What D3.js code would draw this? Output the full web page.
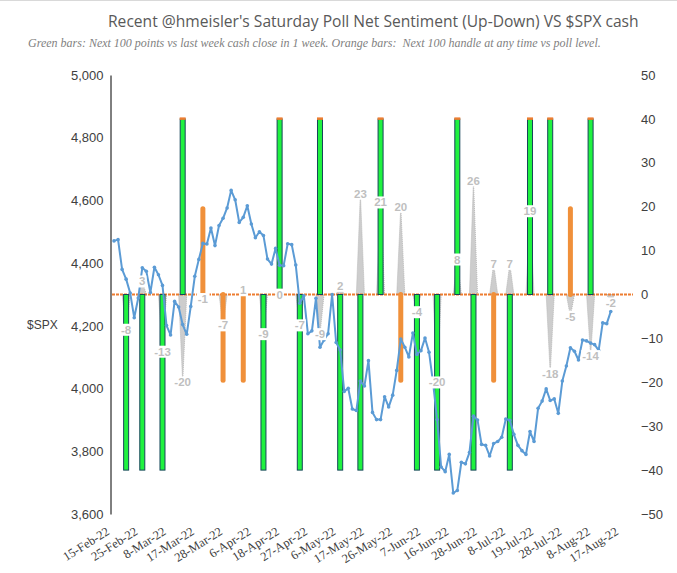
<!DOCTYPE html>
<html>
<head>
<meta charset="utf-8">
<script src="https://cdn.jsdelivr.net/npm/d3@7"></script>
<style>
  body { margin: 0; background: #fff; }
  svg { display: block; font-family: "Liberation Sans", Arial, sans-serif; }
</style>
</head>
<body>
<svg id="chart" width="677" height="573"></svg>
<script>
// trading days, Feb-Aug 2022
var monthDays = [
  ['Feb', [15,16,17,18,22,23,24,25,28]],
  ['Mar', [1,2,3,4,7,8,9,10,11,14,15,16,17,18,21,22,23,24,25,28,29,30,31]],
  ['Apr', [1,4,5,6,7,8,11,12,13,14,18,19,20,21,22,25,26,27,28,29]],
  ['May', [2,3,4,5,6,9,10,11,12,13,16,17,18,19,20,23,24,25,26,27,31]],
  ['Jun', [1,2,3,6,7,8,9,10,13,14,15,16,17,21,22,23,24,27,28,29,30]],
  ['Jul', [1,5,6,7,8,11,12,13,14,15,18,19,20,21,22,25,26,27,28,29]],
  ['Aug', [1,2,3,4,5,8,9,10,11,12,15,16,17,18,19]]
];

var tickLabels = ['15-Feb-22','25-Feb-22','8-Mar-22','17-Mar-22','28-Mar-22','6-Apr-22',
  '18-Apr-22','27-Apr-22','6-May-22','17-May-22','26-May-22','7-Jun-22','16-Jun-22',
  '28-Jun-22','8-Jul-22','19-Jul-22','28-Jul-22','8-Aug-22','17-Aug-22'];

// $SPX cash, from 15-Feb-22
var spxClose = [
  4471,4475,4380,4349,4305,4226,4289,4385,4374,
  4306,4387,4363,4329,4201,4171,4278,4260,4204,4173,4262,4358,4412,4463,4461,4512,4456,4520,4543,4576,4632,4602,4530,
  4546,4583,4525,4481,4500,4488,4413,4397,4447,4393,4392,4462,4459,4394,4272,4296,4175,4184,4288,4132,
  4155,4175,4300,4147,4123,3991,4001,3935,3930,4024,4008,4089,3924,3901,3901,3974,3941,3979,4058,4158,4132,
  4101,4177,4109,4121,4161,4116,4018,3901,3750,3735,3790,3667,3675,3765,3760,3796,3912,3900,3822,3819,3785,
  3825,3831,3845,3903,3899,3854,3819,3802,3790,3863,3831,3937,3960,3999,3962,3967,3921,4024,4072,4130,
  4119,4091,4155,4152,4145,4140,4122,4210,4207,4246
];

// Saturday polls, placed on the Friday close
var pollDates = ['18-Feb-22','25-Feb-22','4-Mar-22','11-Mar-22','18-Mar-22','25-Mar-22','1-Apr-22',
  '8-Apr-22','14-Apr-22','22-Apr-22','29-Apr-22','6-May-22','13-May-22','20-May-22','27-May-22',
  '3-Jun-22','10-Jun-22','17-Jun-22','24-Jun-22','1-Jul-22','8-Jul-22','15-Jul-22','22-Jul-22',
  '29-Jul-22','5-Aug-22','12-Aug-22'];
var pollNet    = [-8,3,-13,-20,-1,-7,1,-9,0,-7,-9,2,23,21,20,-4,-20,8,26,7,7,19,-18,-5,-14,-2];
var greenBars  = [-40,-40,-40,40,0,0,0,-40,40,-40,40,-40,-40,40,0,-40,-40,40,-40,0,-40,40,40,0,40,0];
var orangeBars = [0,0,0,0,20,-20,-20,0,0,0,0,0,0,0,-20,0,0,0,0,-20,0,0,0,20,0,0];

var days = [];
monthDays.forEach(function(m){
  m[1].forEach(function(d){ days.push(d + '-' + m[0] + '-22'); });
});

var svg = d3.select('#chart');

var x = d3.scaleBand().domain(days).range([112, 633]);
var xc = function(d){ return x(d) + x.bandwidth() / 2; };
var yL = d3.scaleLinear().domain([3600, 5000]).range([514, 75]);
var yR = d3.scaleLinear().domain([-50, 50]).range([514, 75]);

// top border
svg.append('line').attr('x1', 0).attr('x2', 677).attr('y1', 0.5).attr('y2', 0.5)
  .attr('stroke', '#d9d9d9');

// titles
svg.append('text')
  .attr('x', 108).attr('y', 27)
  .attr('font-family', '"Open Sans", "Noto Sans", sans-serif')
  .attr('font-size', 15.6).attr('fill', '#595959')
  .text("Recent @hmeisler's Saturday Poll Net Sentiment (Up-Down) VS $SPX cash");

svg.append('text')
  .attr('x', 28).attr('y', 47)
  .attr('font-family', '"Liberation Serif", "Times New Roman", serif')
  .attr('font-style', 'italic')
  .attr('font-size', 12).attr('fill', '#7f7f7f')
  .attr('xml:space', 'preserve')
  .text('Green bars: Next 100 points vs last week cash close in 1 week. Orange bars:  Next 100 handle at any time vs poll level.');

svg.append('text')
  .attr('x', 27).attr('y', 329)
  .attr('font-size', 12).attr('fill', '#404040')
  .text('$SPX');

var polls = pollDates.map(function(d, i){
  var k = days.indexOf(d);
  return { day: d, prev: days[k - 1], next: days[k + 1],
           net: pollNet[i], green: greenBars[i], orange: orangeBars[i] };
});

// gray sentiment spikes
var area = d3.area()
  .x(function(p){ return xc(p[0]); })
  .y0(yR(0))
  .y1(function(p){ return yR(p[1]); });

svg.append('g').selectAll('path')
  .data(polls)
  .enter().append('path')
  .attr('d', function(p){ return area([[p.prev, 0], [p.day, p.net], [p.next, 0]]); })
  .attr('fill', '#cdcdcd')
  .attr('stroke', '#b8b8b8')
  .attr('stroke-width', 1)
  .attr('stroke-dasharray', '1,1');

// orange zero line
svg.append('line')
  .attr('x1', 112).attr('x2', 633)
  .attr('y1', yR(0)).attr('y2', yR(0))
  .attr('stroke', '#ed7d31').attr('stroke-width', 2)
  .attr('stroke-dasharray', '3,1');

// green bars
var gb = polls.filter(function(p){ return p.green !== 0; });
svg.append('g').selectAll('rect')
  .data(gb)
  .enter().append('rect')
  .attr('x', function(p){ return xc(p.day) - 2.5; })
  .attr('width', 5)
  .attr('y', function(p){ return Math.min(yR(0), yR(p.green)); })
  .attr('height', function(p){ return Math.abs(yR(p.green) - yR(0)); })
  .attr('fill', '#1ff23f')
  .attr('stroke', '#17455a')
  .attr('stroke-width', 1);

svg.append('g').selectAll('rect')
  .data(gb.filter(function(p){ return p.green > 0; }))
  .enter().append('rect')
  .attr('x', function(p){ return xc(p.day) - 3; })
  .attr('width', 6)
  .attr('y', function(p){ return yR(p.green) - 1.5; })
  .attr('height', 2.5)
  .attr('fill', '#ed7d31');

// orange bars
svg.append('g').selectAll('line')
  .data(polls.filter(function(p){ return p.orange !== 0; }))
  .enter().append('line')
  .attr('x1', function(p){ return xc(p.day); })
  .attr('x2', function(p){ return xc(p.day); })
  .attr('y1', yR(0))
  .attr('y2', function(p){ return yR(p.orange) + (p.orange > 0 ? 2 : -2); })
  .attr('stroke', '#f0903a')
  .attr('stroke-width', 5)
  .attr('stroke-linecap', 'round');

// $SPX line
var spx = spxClose.map(function(v, i){ return [days[i], v]; });
var line = d3.line()
  .x(function(d){ return xc(d[0]); })
  .y(function(d){ return yL(d[1]); });

svg.append('path')
  .datum(spx)
  .attr('d', line)
  .attr('fill', 'none')
  .attr('stroke', '#5b9bd5')
  .attr('stroke-width', 2)
  .attr('stroke-linejoin', 'round');

svg.append('g').selectAll('circle')
  .data(spx)
  .enter().append('circle')
  .attr('cx', function(d){ return xc(d[0]); })
  .attr('cy', function(d){ return yL(d[1]); })
  .attr('r', 1.8)
  .attr('fill', '#5b9bd5');

// axes
var leftAxis = svg.append('g')
  .attr('transform', 'translate(110.5,0)')
  .call(d3.axisLeft(yL).tickValues(d3.range(3600, 5001, 200))
    .tickFormat(d3.format(',')).tickSize(0).tickPadding(7));
leftAxis.select('.domain').attr('stroke', '#000').attr('stroke-width', 1);

var rightAxis = svg.append('g')
  .attr('transform', 'translate(633,0)')
  .call(d3.axisRight(yR).tickValues(d3.range(-50, 51, 10)).tickSize(0).tickPadding(8));
rightAxis.select('.domain').remove();

[leftAxis, rightAxis].forEach(function(g){
  g.attr('font-family', null).attr('font-size', null);
  g.selectAll('text').attr('font-size', 13).attr('fill', '#404040');
});

var bottomAxis = svg.append('g')
  .attr('transform', 'translate(0,514)')
  .call(d3.axisBottom(x).tickValues(tickLabels).tickSize(0));
bottomAxis.select('.domain').remove();
bottomAxis.attr('font-family', null).attr('font-size', null);
bottomAxis.selectAll('text')
  .attr('y', 0).attr('dy', '0.35em')
  .attr('transform', 'translate(-6,16) rotate(-32)')
  .style('text-anchor', 'end')
  .attr('font-family', '"Liberation Serif", "Times New Roman", serif')
  .attr('font-size', 12.5).attr('fill', '#404040');

// sentiment data labels
var lbl = svg.append('g').selectAll('g')
  .data(polls)
  .enter().append('g')
  .attr('transform', function(p){ return 'translate(' + xc(p.day) + ',' + yR(p.net) + ')'; });

lbl.append('text')
  .attr('text-anchor', 'middle')
  .attr('dy', '0.36em')
  .attr('font-size', 11.5)
  .attr('font-weight', 'bold')
  .attr('fill', '#bfbfbf')
  .text(function(p){ return p.net; });

lbl.each(function(){
  var g = d3.select(this);
  var b = g.select('text').node().getBBox();
  g.insert('rect', 'text')
    .attr('x', b.x - 1).attr('y', b.y)
    .attr('width', b.width + 2).attr('height', b.height)
    .attr('fill', '#fff');
});
</script>
</body>
</html>
